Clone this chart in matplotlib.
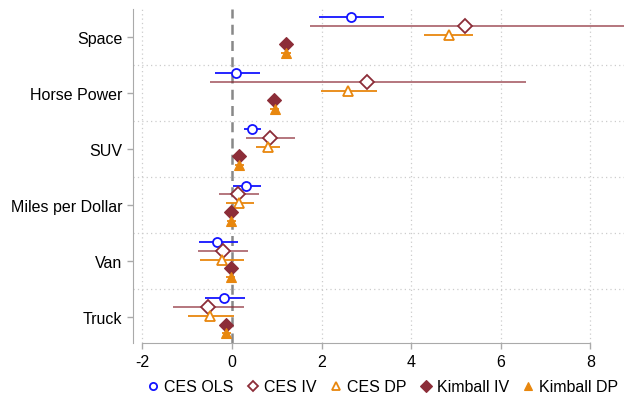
import matplotlib
matplotlib.use("Agg")
import matplotlib.pyplot as plt
from matplotlib.lines import Line2D
import numpy as np

plt.rcParams['font.family'] = ['Liberation Sans', 'DejaVu Sans']

categories = ["Space", "Horse Power", "SUV", "Miles per Dollar", "Van", "Truck"]
series = ["CES OLS", "CES IV", "CES DP", "Kimball IV", "Kimball DP"]

ces_ols = [2.66, 0.09, 0.45, 0.31, -0.33, -0.17]
ces_ols_lo = [1.95, -0.39, 0.26, 0.02, -0.73, -0.60]
ces_ols_hi = [3.40, 0.63, 0.64, 0.64, 0.13, 0.30]

ces_iv = [5.19, 3.02, 0.85, 0.13, -0.21, -0.53]
ces_iv_lo = [1.73, -0.49, 0.31, -0.30, -0.75, -1.31]
ces_iv_hi = [8.80, 6.56, 1.41, 0.61, 0.35, 0.27]

ces_dp = [4.84, 2.60, 0.80, 0.16, -0.22, -0.48]
ces_dp_lo = [4.29, 1.99, 0.54, -0.13, -0.71, -0.98]
ces_dp_hi = [5.39, 3.24, 1.08, 0.49, 0.27, 0.05]

kim_iv = [1.21, 0.93, 0.16, -0.03, -0.03, -0.13]
kim_iv_lo = [1.15, 0.87, 0.11, -0.08, -0.08, -0.18]
kim_iv_hi = [1.27, 0.99, 0.21, 0.02, 0.02, -0.08]

kim_dp = [1.21, 0.95, 0.16, -0.02, -0.03, -0.13]
kim_dp_lo = [1.10, 0.84, 0.06, -0.12, -0.13, -0.23]
kim_dp_hi = [1.32, 1.06, 0.26, 0.08, 0.07, -0.03]

xticks = [-2, 0, 2, 4, 6, 8]

blue = '#1414ff'
maroon = '#8c2d38'
orange = '#e8870e'

offsets = [-0.35, -0.19, -0.03, 0.13, 0.29]

fig = plt.figure(figsize=(6.24, 4.06), dpi=100)
ax = fig.add_axes([133/624, 1-344/406, 1-133/624, (344-10)/406])

ypos = np.arange(len(categories))

specs = [
    (ces_ols, ces_ols_lo, ces_ols_hi, dict(marker='o', mfc='white', mec=blue, ms=6.5, mew=1.3), blue, 1.0),
    (ces_iv, ces_iv_lo, ces_iv_hi, dict(marker='D', mfc='white', mec=maroon, ms=7, mew=1.3), maroon, 0.7),
    (ces_dp, ces_dp_lo, ces_dp_hi, dict(marker='^', mfc='white', mec=orange, ms=7, mew=1.3), orange, 1.0),
    (kim_iv, kim_iv_lo, kim_iv_hi, dict(marker='D', mfc=maroon, mec=maroon, ms=7.5, mew=0.8), maroon, 1.0),
    (kim_dp, kim_dp_lo, kim_dp_hi, dict(marker='^', mfc=orange, mec=orange, ms=7.5, mew=0.8), orange, 1.0),
]

# grid
for g in [-2, 2, 4, 6, 8]:
    ax.axvline(g, color='#cccccc', lw=0.9, ls=(0, (1, 2.5)), zorder=0)
for g in np.arange(0.5, len(categories) - 0.5, 1.0):
    ax.axhline(g, color='#cccccc', lw=0.9, ls=(0, (1, 2.5)), zorder=0)
ax.axvline(0, color='#888888', lw=1.8, ls=(0, (4, 2.5)), zorder=1)

for k, (vals, lo, hi, mk, col, alpha) in enumerate(specs):
    y = ypos + offsets[k]
    ax.hlines(y, lo, hi, color=col, lw=1.3, alpha=alpha, zorder=2)
for k, (vals, lo, hi, mk, col, alpha) in enumerate(specs):
    y = ypos + offsets[k]
    ax.plot(vals, y, ls='none', zorder=3 + k, **mk)

ax.set_xlim((133-232)/44.8, (624-232)/44.8)
ax.set_ylim(5.46, -0.5)
ax.set_xticks(xticks)
ax.set_xticklabels([str(t) for t in xticks])
ax.set_yticks(ypos)
ax.set_yticklabels(categories)

for s in ['top', 'right']:
    ax.spines[s].set_visible(False)
ax.spines['left'].set_color('#aaaaaa')
ax.spines['bottom'].set_color('#aaaaaa')
ax.spines['bottom'].set_bounds(-2, 8)
ax.tick_params(axis='both', colors='#aaaaaa', labelcolor='black', labelsize=11.5, length=4, width=1)
ax.tick_params(axis='x', pad=4)

handles = []
for k, (vals, lo, hi, mk, col, alpha) in enumerate(specs):
    mk2 = dict(mk)
    mk2['ms'] = mk['ms'] * 0.8
    handles.append(Line2D([], [], ls='none', **mk2))
fig.legend(handles, series, loc='center', bbox_to_anchor=(0.613, 0.045), ncol=5,
           frameon=False, fontsize=11.5, handletextpad=0.3, columnspacing=0.8,
           handlelength=0.8)

fig.savefig('out.png', dpi=100)
